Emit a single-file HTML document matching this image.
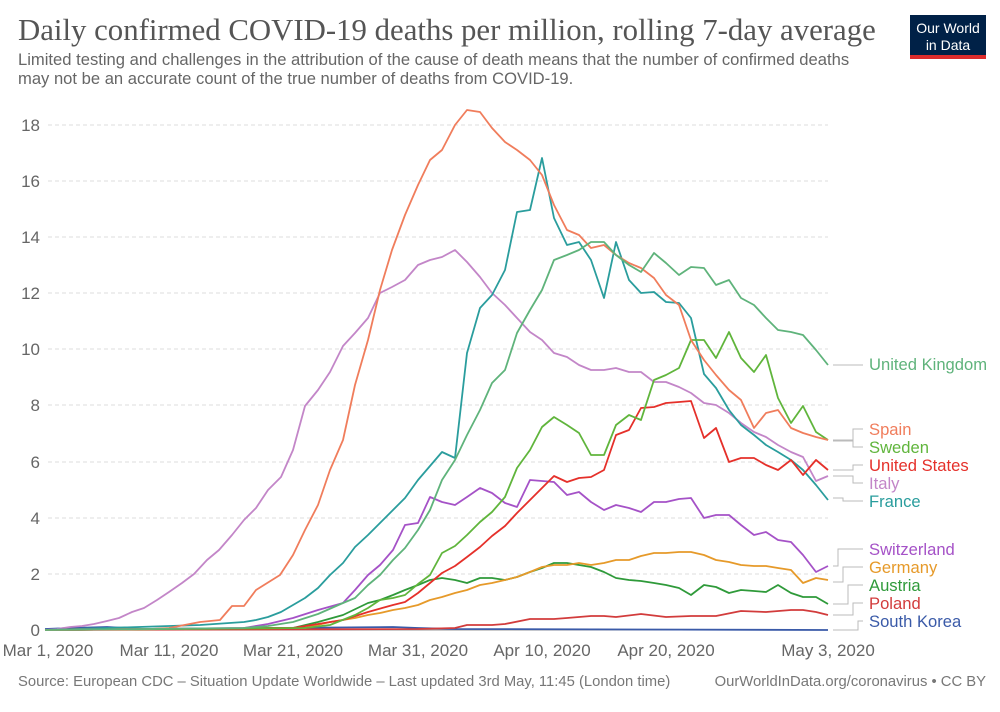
<!DOCTYPE html>
<html><head><meta charset="utf-8"><style>
body{margin:0;background:#fff;}
.s{font-family:"Liberation Sans",sans-serif;}
</style></head><body>
<svg width="1000" height="707" xmlns="http://www.w3.org/2000/svg" class="s" font-family="Liberation Sans, sans-serif">
<rect width="1000" height="707" fill="#fff"/>
<text x="18" y="40" style="font-family:'Liberation Serif',serif" font-size="30.8" fill="#555">Daily confirmed COVID-19 deaths per million, rolling 7-day average</text>
<text x="18" y="65" font-size="16.6" fill="#666">Limited testing and challenges in the attribution of the cause of death means that the number of confirmed deaths</text>
<text x="18" y="84" font-size="16.6" fill="#666">may not be an accurate count of the true number of deaths from COVID-19.</text>
<rect x="910" y="15" width="76" height="40" fill="#002147"/>
<rect x="910" y="55" width="76" height="4" fill="#dc2c2c"/>
<text x="948" y="33" font-size="14" fill="#fff" text-anchor="middle">Our World</text>
<text x="948" y="50" font-size="14" fill="#fff" text-anchor="middle">in Data</text>
<g stroke="#ddd" stroke-dasharray="4,3" stroke-width="1">
<line x1="48" x2="828" y1="125" y2="125"/><line x1="48" x2="828" y1="181" y2="181"/><line x1="48" x2="828" y1="237" y2="237"/><line x1="48" x2="828" y1="293" y2="293"/><line x1="48" x2="828" y1="349" y2="349"/><line x1="48" x2="828" y1="405" y2="405"/><line x1="48" x2="828" y1="462" y2="462"/><line x1="48" x2="828" y1="518" y2="518"/><line x1="48" x2="828" y1="574" y2="574"/>
</g>
<line x1="45" x2="828" y1="630" y2="630" stroke="#999"/>
<g font-size="17" fill="#666" text-anchor="end">
<text x="40" y="131">18</text><text x="40" y="187">16</text><text x="40" y="243">14</text><text x="40" y="299">12</text><text x="40" y="355">10</text><text x="40" y="411">8</text><text x="40" y="468">6</text><text x="40" y="524">4</text><text x="40" y="580">2</text><text x="40" y="636">0</text>
</g>
<g font-size="17" fill="#666" text-anchor="middle">
<text x="48" y="656">Mar 1, 2020</text><text x="169" y="656">Mar 11, 2020</text><text x="293" y="656">Mar 21, 2020</text><text x="418" y="656">Mar 31, 2020</text><text x="542" y="656">Apr 10, 2020</text><text x="666" y="656">Apr 20, 2020</text><text x="828" y="656">May 3, 2020</text>
</g>
<g fill="none" stroke-width="1.8" stroke-linejoin="round">
<polyline stroke="#3a5aa8" points="45,629 70,628 107,627 144,629 393,627 418,628 455,629 828,630"/>
<polyline stroke="#d23c3c" points="45,630 418,629 455,628 467,625 492,625 505,624 530,619 554,619 567,618 591,616 604,616 616,617 641,614 666,617 691,616 716,616 741,611 766,612 791,610 803,610 816,612 828,615"/>
<polyline stroke="#2f9a3a" points="45,630 293,628 318,622 343,615 368,603 380,600 393,595 405,590 418,585 430,580 442,578 455,580 467,583 480,578 492,578 505,580 517,577 530,572 542,568 554,563 567,563 579,565 591,567 604,572 616,578 629,580 641,581 654,583 666,585 679,588 691,595 704,585 716,587 729,593 741,590 754,591 766,592 778,585 791,593 803,597 816,597 828,604"/>
<polyline stroke="#e69a2a" points="45,630 305,628 330,622 355,618 368,615 380,613 393,610 405,608 418,605 430,600 442,597 455,593 467,590 480,585 492,583 505,580 517,577 530,572 542,567 554,565 567,565 579,563 591,565 604,563 616,560 629,560 641,556 654,553 666,553 679,552 691,552 704,555 716,560 729,562 741,565 754,566 766,566 778,568 791,570 803,583 816,578 828,580"/>
<polyline stroke="#a552c7" points="45,630 244,628 268,624 293,618 318,610 343,603 355,590 368,575 380,565 393,550 405,525 418,523 430,497 442,502 455,505 467,497 480,488 492,493 505,503 517,507 530,480 542,481 554,482 567,495 579,492 591,502 604,510 616,505 629,508 641,512 654,502 666,502 679,499 691,498 704,518 716,515 729,515 741,525 754,535 766,532 778,540 791,542 803,555 816,572 828,566"/>
<polyline stroke="#c386c8" points="45,630 57,629 70,627 82,626 94,624 107,621 119,618 132,612 144,608 157,600 169,592 182,583 194,574 207,560 219,550 232,535 244,520 256,508 268,490 281,477 293,450 305,406 318,390 330,372 343,346 355,333 368,318 380,293 392,287 405,280 418,265 430,260 442,257 455,250 467,262 480,277 492,293 505,305 517,318 530,332 542,340 554,353 567,357 579,365 591,370 604,370 616,368 629,372 641,372 654,382 666,382 679,387 691,393 704,403 716,405 729,413 741,423 754,432 766,437 778,445 791,452 803,457 816,481 828,476"/>
<polyline stroke="#2a9d9d" points="45,630 200,625 244,622 256,620 268,617 281,612 293,605 305,598 318,588 330,575 343,563 355,547 368,535 380,523 393,510 405,498 418,480 430,466 442,452 455,458 467,353 480,308 492,295 505,270 517,212 530,210 542,158 554,218 567,245 579,242 591,260 604,298 616,242 629,280 641,293 654,292 666,302 679,303 691,318 704,374 716,388 729,410 741,425 754,435 766,445 778,452 791,460 803,470 816,485 828,500"/>
<polyline stroke="#e5302a" points="45,630 293,628 318,624 343,620 368,612 393,605 405,602 418,593 430,583 442,573 455,566 467,557 480,547 492,536 505,526 517,513 530,500 542,488 554,476 567,482 579,478 591,477 604,470 616,435 629,430 641,408 654,407 666,403 679,402 691,401 704,438 716,428 729,462 741,458 754,458 766,465 778,470 791,460 803,475 816,460 828,470"/>
<polyline stroke="#60b53c" points="45,630 305,628 330,625 355,615 368,608 380,600 393,598 405,595 418,584 430,575 442,553 455,546 467,535 480,522 492,512 505,497 517,468 530,450 542,427 554,417 567,425 579,433 591,455 604,455 616,425 629,415 641,420 654,380 666,375 679,368 691,340 704,340 716,358 729,332 741,358 754,372 766,355 778,398 791,423 803,406 816,432 828,440"/>
<polyline stroke="#f07d5c" points="45,630 150,629 169,628 200,622 220,620 232,606 244,606 256,590 280,575 293,555 305,530 318,505 330,470 343,440 355,385 368,340 380,290 392,250 405,215 418,185 430,160 442,150 455,125 467,110 480,112 492,128 505,142 517,150 530,160 542,175 554,205 567,230 579,235 591,248 604,245 616,255 629,263 641,268 654,278 666,295 679,305 691,340 704,360 716,375 729,390 741,400 754,428 766,413 778,410 791,428 803,433 816,437 828,440"/>
<polyline stroke="#5fb37b" points="45,630 243,628 268,626 293,622 318,614 343,603 355,598 368,585 380,575 393,560 405,548 418,530 430,510 442,480 455,460 467,435 480,410 492,383 505,370 517,333 530,310 542,290 554,260 567,255 579,250 591,242 604,242 616,255 629,265 641,272 654,253 666,263 679,275 691,267 704,268 716,285 729,280 741,298 754,305 766,318 778,330 791,332 803,335 816,350 828,365"/>
</g>
<g fill="none" stroke="#bbb" stroke-width="1">
<polyline points="833,365 863,365"/>
<polyline points="833,440 853,440 853,429 863,429"/>
<polyline points="833,441 853,441 853,447 863,447"/>
<polyline points="833,470 853,470 853,465 863,465"/>
<polyline points="833,476 853,476 853,483 863,483"/>
<polyline points="833,498 843,498 843,501 863,501"/>
<polyline points="833,566 838,566 838,549 863,549"/>
<polyline points="833,582 843,582 843,567 863,567"/>
<polyline points="833,604 848,604 848,585 863,585"/>
<polyline points="833,615 853,615 853,603 863,603"/>
<polyline points="833,630 858,630 858,621 863,621"/>
</g>
<g font-size="16.6">
<text x="869" y="370" fill="#5fb37b">United Kingdom</text>
<text x="869" y="435" fill="#f07d5c">Spain</text>
<text x="869" y="453" fill="#60b53c">Sweden</text>
<text x="869" y="471" fill="#e5302a">United States</text>
<text x="869" y="489" fill="#c386c8">Italy</text>
<text x="869" y="507" fill="#2a9d9d">France</text>
<text x="869" y="555" fill="#a552c7">Switzerland</text>
<text x="869" y="573" fill="#e69a2a">Germany</text>
<text x="869" y="591" fill="#2f9a3a">Austria</text>
<text x="869" y="609" fill="#d23c3c">Poland</text>
<text x="869" y="627" fill="#3a5aa8">South Korea</text>
</g>
<text x="18" y="686" font-size="14.8" fill="#777">Source: European CDC – Situation Update Worldwide – Last updated 3rd May, 11:45 (London time)</text>
<text x="986" y="686" font-size="14.8" fill="#777" text-anchor="end">OurWorldInData.org/coronavirus • CC BY</text>
</svg>
</body></html>
